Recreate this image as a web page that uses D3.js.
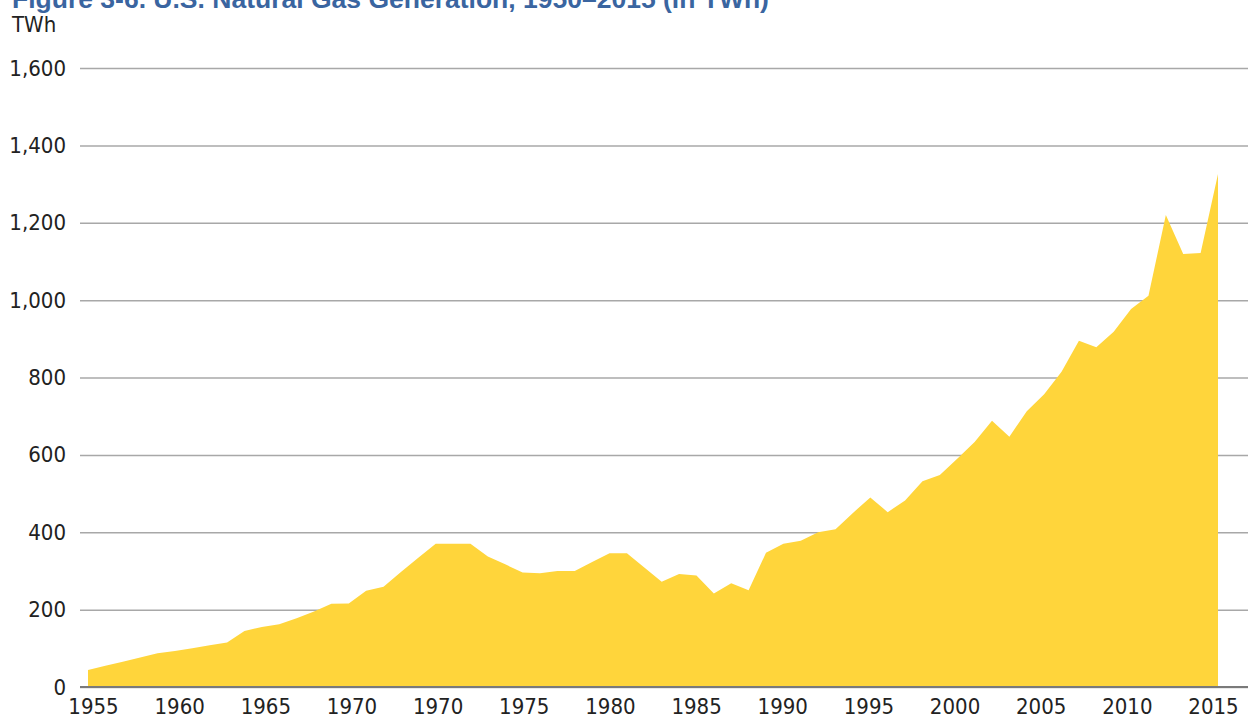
<!DOCTYPE html>
<html>
<head>
<meta charset="utf-8">
<script src="https://cdn.jsdelivr.net/npm/d3@7"></script>
<style>
  body { margin: 0; background: #fff; }
  svg { display: block; }
  .lbl, .tick text { font-family: "DejaVu Sans", sans-serif; font-stretch: semi-condensed; fill: #222; }
</style>
</head>
<body>
<script>
// window size
var width = 1248;
var height = 723;

// data (TWh)
var years = [1950,1951,1952,1953,1954,1955,1956,1957,1958,1959,
             1960,1961,1962,1963,1964,1965,1966,1967,1968,1969,
             1970,1971,1972,1973,1974,1975,1976,1977,1978,1979,
             1980,1981,1982,1983,1984,1985,1986,1987,1988,1989,
             1990,1991,1992,1993,1994,1995,1996,1997,1998,1999,
             2000,2001,2002,2003,2004,2005,2006,2007,2008,2009,
             2010,2011,2012,2013,2014,2015];
var gasTWh = [44,55,65,76,87,93,100,108,115,145,
              155,162,178,195,215,216,249,259,297,334,
              370,370,370,337,317,296,294,300,300,323,
              346,346,309,272,292,288,242,268,250,347,
              370,378,400,408,450,490,452,482,532,548,
              590,633,688,647,713,757,815,895,878,918,
              977,1011,1220,1119,1122,1326];

// tick labels exactly as printed (the original repeats 1970)
var tickYears = [1950,1955,1960,1965,1970,1975,1980,1985,1990,1995,2000,2005,2010,2015];
var tickLabels = ["1955","1960","1965","1970","1970","1975","1980","1985","1990","1995","2000","2005","2010","2015"];
var yTicks = [0,200,400,600,800,1000,1200,1400,1600];

var margin = {left: 88, right: 30, top: 68, bottom: 36};
var gridLeft = 80;

var svg = d3.select("body").append("svg")
  .attr("width", width).attr("height", height);

var x = d3.scaleLinear()
  .domain([1950, 2015])
  .range([margin.left, width - margin.right]);

// the printed labels sit on their own even spacing
var xLab = d3.scalePoint()
  .domain(tickYears)
  .range([93, 1213]);

var y = d3.scaleLinear()
  .domain([0, 1600])
  .range([height - margin.bottom, margin.top]);

// title (partly cut off at the top, as in the source)
svg.append("text")
  .attr("x", 12).attr("y", 8)
  .attr("font-family", "Liberation Sans, Arial, sans-serif")
  .attr("font-weight", "bold")
  .attr("font-size", 26.5)
  .attr("fill", "#3A65A0")
  .text("Figure 3-6. U.S. Natural Gas Generation, 1950\u20132015 (in TWh)");

svg.append("text")
  .attr("class", "lbl")
  .attr("x", 12).attr("y", 32)
  .attr("font-size", 22)
  .text("TWh");

// gridlines + y labels
var yAxis = d3.axisLeft(y)
  .tickValues(yTicks)
  .tickSize(-(width - gridLeft))
  .tickPadding(14)
  .tickFormat(d3.format(","));

var yg = svg.append("g")
  .attr("transform", "translate(" + gridLeft + ",0)")
  .call(yAxis);
yg.select(".domain").remove();
yg.selectAll(".tick line")
  .attr("stroke", "#A8A8A8")
  .attr("stroke-width", 1.5);
yg.selectAll(".tick text").attr("font-size", 22);

// area
var area = d3.area()
  .x(function(d, i){ return x(years[i]); })
  .y0(y(0))
  .y1(function(d){ return y(d); });

svg.append("path")
  .attr("fill", "#FFD53B")
  .attr("d", area(gasTWh));

// baseline
svg.append("line")
  .attr("x1", gridLeft).attr("x2", width)
  .attr("y1", y(0)).attr("y2", y(0))
  .attr("stroke", "#7A7A7A")
  .attr("stroke-width", 2);

// x labels
var xAxis = d3.axisBottom(xLab)
  .tickSize(0)
  .tickPadding(11)
  .tickFormat(function(d, i){ return tickLabels[i]; });

var xg = svg.append("g")
  .attr("transform", "translate(0," + y(0) + ")")
  .call(xAxis);
xg.select(".domain").remove();
xg.selectAll(".tick text").attr("font-size", 22);
</script>
</body>
</html>
